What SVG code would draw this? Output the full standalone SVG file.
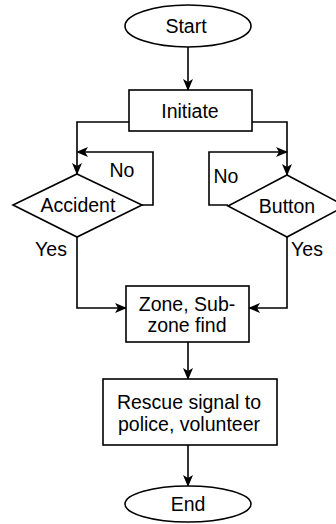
<svg xmlns="http://www.w3.org/2000/svg" width="336" height="524" viewBox="0 0 336 524">
<style>
.s{fill:#fff;stroke:#000;stroke-width:1.6}
.c{fill:none;stroke:#000;stroke-width:1.6}
text{font-family:"Liberation Sans",Arial,sans-serif;font-size:19.5px;fill:#000;text-anchor:middle;dominant-baseline:central}
</style>
<defs>
<marker id="a" viewBox="0 0 12 10" refX="11" refY="5" markerWidth="12" markerHeight="10" markerUnits="userSpaceOnUse" orient="auto">
<path d="M0,0 L12,5 L0,10 L3,5 Z" fill="#000"/>
</marker>
</defs>
<g id="connectors">
<path class="c" d="M188,47 V90" marker-end="url(#a)"/>
<path class="c" d="M129,122 H77 V174" marker-end="url(#a)"/>
<path class="c" d="M252,122 H287 V175" marker-end="url(#a)"/>
<path class="c" d="M142,205 H153 V152 H77" marker-end="url(#a)"/>
<path class="c" d="M228,205 H209 V152 H287" marker-end="url(#a)"/>
<path class="c" d="M77,237 V308 H126" marker-end="url(#a)"/>
<path class="c" d="M287,237 V308 H249" marker-end="url(#a)"/>
<path class="c" d="M188,342 V379" marker-end="url(#a)"/>
<path class="c" d="M188,445 V486" marker-end="url(#a)"/>
<text x="122" y="170">No</text>
<text x="226" y="176">No</text>
<text x="51" y="249">Yes</text>
<text x="307" y="249">Yes</text>
</g>
<g id="start"><ellipse class="s" cx="188" cy="26" rx="63" ry="21"/><text x="186" y="26">Start</text></g>
<g id="initiate"><rect class="s" x="129" y="90" width="123" height="41"/><text x="190" y="111">Initiate</text></g>
<g id="accident"><polygon class="s" points="77,174 142,205 77,237 13,205"/><text x="78" y="205">Accident</text></g>
<g id="button"><polygon class="s" points="287,175 345,206 287,237 228,206"/><text x="287" y="206">Button</text></g>
<g id="zone"><rect class="s" x="126" y="286" width="123" height="56"/><text x="187" y="304">Zone, Sub-</text><text x="187" y="325">zone find</text></g>
<g id="rescue"><rect class="s" x="103" y="379" width="174" height="66"/><text x="189" y="402">Rescue signal to</text><text x="189" y="424">police, volunteer</text></g>
<g id="end"><ellipse class="s" cx="188" cy="504" rx="63" ry="18"/><text x="188" y="504">End</text></g>
</svg>
